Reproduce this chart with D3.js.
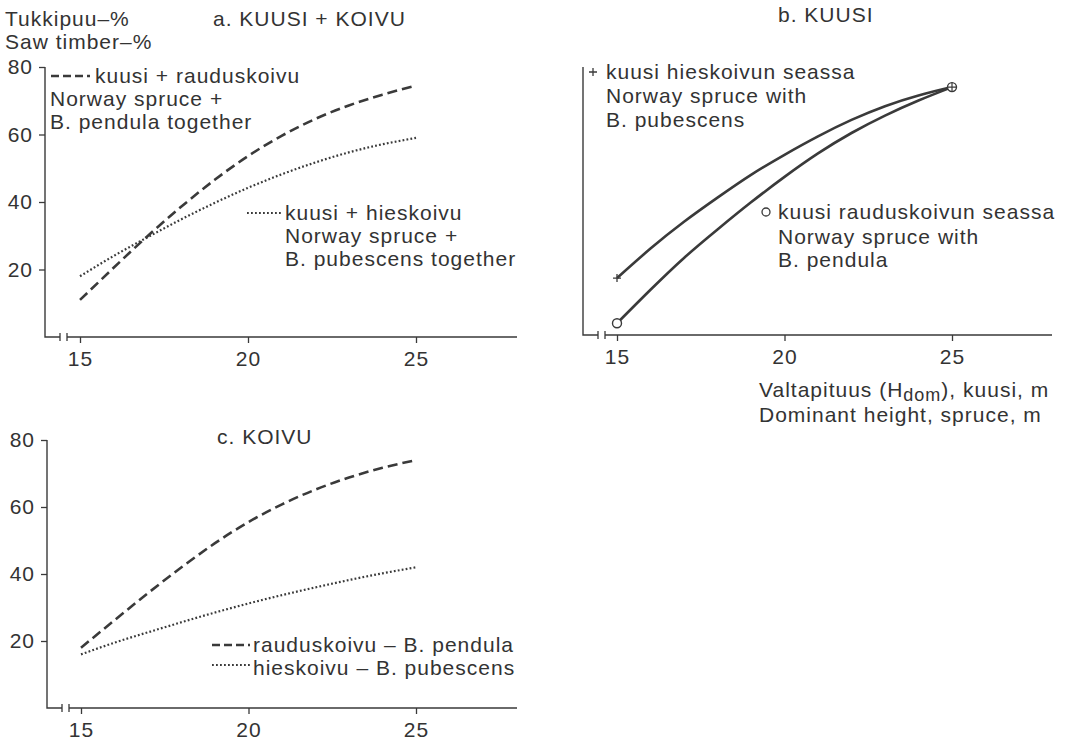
<!DOCTYPE html>
<html>
<head>
<meta charset="utf-8">
<script src="https://cdn.jsdelivr.net/npm/d3@7"></script>
<style>
  html, body { margin: 0; padding: 0; background: #fff; }
  svg text { font-family: "Liberation Sans", Arial, sans-serif; fill: #333; }
</style>
</head>
<body>
<svg id="chart" width="1066" height="744"></svg>
<script>
// Dominant height of spruce, m
const heights = [15, 16, 17, 18, 19, 20, 21, 22, 23, 24, 25];
const xTicks = [15, 20, 25];
const yTicks = [20, 40, 60, 80];

// a. spruce + birch together, saw timber %
const aSprucePendula   = [11, 20.5, 29.8, 38.5, 46.5, 53.6, 59.6, 64.6, 68.6, 71.8, 74.5];
const aSprucePubescens = [18, 24, 29.5, 34.8, 39.7, 44.2, 48.2, 51.7, 54.7, 57.1, 59];

// b. spruce only
const bSpruceWithPubescens = [17, 25.8, 33.8, 41, 47.8, 53.8, 59.3, 64.2, 68.3, 71.5, 74];
const bSpruceWithPendula   = [3.5, 13.5, 23, 31.5, 39.6, 47.2, 54.2, 60.3, 65.5, 70, 74];

// c. birch only
const cPendula   = [18, 26.2, 34.3, 42, 49.2, 55.5, 60.8, 65.2, 68.8, 71.7, 74];
const cPubescens = [16, 19.5, 22.6, 25.6, 28.5, 31.2, 33.7, 36, 38.2, 40.2, 42];

const svg = d3.select("#chart");
const INK = "#3a3a3a";
const FONT = 21;
const LS = "1px";

const DASH = "10,5";
const DOT = "1.8,2.2";

function text(g, x, y, s, anchor) {
  return g.append("text").attr("x", x).attr("y", y)
    .attr("font-size", FONT).attr("letter-spacing", LS)
    .attr("text-anchor", anchor || "start").text(s);
}

function panel(opts) {
  const g = svg.append("g");
  const x = d3.scaleLinear().domain([15, 25]).range([opts.x15, opts.x25]);
  const y = d3.scaleLinear().domain([0, 80]).range([opts.y0, opts.y80]);
  const ax = opts.axisX, base = opts.y0;

  // x axis with broken-scale marks near the origin
  const xa = g.append("g").attr("transform", `translate(0,${base})`)
    .call(d3.axisBottom(x).tickValues(xTicks).tickSize(6).tickPadding(8).tickFormat(d3.format("d")));
  xa.select(".domain").remove();
  xa.selectAll(".tick line").attr("stroke", INK).attr("stroke-width", 1.3);
  xa.selectAll(".tick text").attr("font-size", FONT).attr("letter-spacing", LS)
    .attr("font-family", "Liberation Sans, Arial, sans-serif").attr("fill", "#333");
  const b1 = ax + 15, b2 = ax + 22;
  g.append("path").attr("fill", "none").attr("stroke", INK).attr("stroke-width", 1.4)
    .attr("d", `M${ax},${y(80)}V${base}H${b1}M${b2},${base}H${opts.xEnd}`);
  g.append("path").attr("fill", "none").attr("stroke", INK).attr("stroke-width", 1.3)
    .attr("d", `M${b1},${base - 4}V${base + 4}M${b2},${base - 4}V${base + 4}`);

  if (opts.yLabels) {
    const ya = g.append("g").attr("transform", `translate(${ax},0)`)
      .call(d3.axisLeft(y).tickValues(yTicks).tickSize(6).tickPadding(6).tickFormat(d3.format("d")));
    ya.select(".domain").remove();
    ya.selectAll(".tick line").attr("stroke", INK).attr("stroke-width", 1.3);
    ya.selectAll(".tick text").attr("font-size", FONT).attr("letter-spacing", LS)
      .attr("font-family", "Liberation Sans, Arial, sans-serif").attr("fill", "#333");
  }
  return { g, x, y };
}

function curve(p, values, dash, width) {
  const line = d3.line().x((d, i) => p.x(heights[i])).y(d => p.y(d)).curve(d3.curveNatural);
  p.g.append("path").datum(values).attr("fill", "none").attr("stroke", INK)
    .attr("stroke-width", width).attr("stroke-dasharray", dash).attr("d", line);
}

function legendLine(g, x1, x2, y, dash, width) {
  g.append("line").attr("x1", x1).attr("x2", x2).attr("y1", y).attr("y2", y)
    .attr("stroke", INK).attr("stroke-width", width).attr("stroke-dasharray", dash);
}

// ---- a. KUUSI + KOIVU
const pa = panel({ x15: 80, x25: 416, y0: 337, y80: 67, axisX: 45, xEnd: 517, yLabels: true });
curve(pa, aSprucePendula, DASH, 2.6);
curve(pa, aSprucePubescens, DOT, 2.2);
text(pa.g, 5, 26, "Tukkipuu\u2013%");
text(pa.g, 5, 49, "Saw timber\u2013%");
text(pa.g, 213, 26, "a.  KUUSI + KOIVU");
legendLine(pa.g, 51, 90, 76, "8,4", 2.6);
text(pa.g, 95, 83, "kuusi + rauduskoivu");
text(pa.g, 50, 106, "Norway spruce +");
text(pa.g, 50, 129, "B. pendula together");
legendLine(pa.g, 247, 282, 213, DOT, 2.2);
text(pa.g, 285, 220, "kuusi + hieskoivu");
text(pa.g, 285, 243, "Norway spruce +");
text(pa.g, 285, 266, "B. pubescens together");

// ---- b. KUUSI
const pb = panel({ x15: 617, x25: 952, y0: 335, y80: 67, axisX: 583, xEnd: 1052, yLabels: false });
curve(pb, bSpruceWithPubescens, null, 2.6);
curve(pb, bSpruceWithPendula, null, 2.6);
text(pb.g, 778, 22, "b.  KUUSI");
// start markers
const sx = pb.x(heights[0]);
const sy1 = pb.y(bSpruceWithPubescens[0]), sy2 = pb.y(bSpruceWithPendula[0]);
pb.g.append("path").attr("stroke", INK).attr("stroke-width", 1.3)
  .attr("d", `M${sx - 4},${sy1}H${sx + 4}M${sx},${sy1 - 4}V${sy1 + 4}`);
pb.g.append("circle").attr("cx", sx).attr("cy", sy2).attr("r", 4.5)
  .attr("fill", "#fff").attr("stroke", INK).attr("stroke-width", 1.4);
// shared end marker
const ex = pb.x(heights[heights.length - 1]), ey = pb.y(bSpruceWithPendula[bSpruceWithPendula.length - 1]);
pb.g.append("circle").attr("cx", ex).attr("cy", ey).attr("r", 4.5)
  .attr("fill", "#fff").attr("stroke", INK).attr("stroke-width", 1.4);
pb.g.append("path").attr("stroke", INK).attr("stroke-width", 1.2)
  .attr("d", `M${ex - 4.5},${ey}H${ex + 4.5}M${ex},${ey - 4.5}V${ey + 4.5}`);
// legends
pb.g.append("path").attr("stroke", INK).attr("stroke-width", 1.3)
  .attr("d", "M589,72H597M593,68V76");
text(pb.g, 606, 79, "kuusi hieskoivun seassa");
text(pb.g, 606, 103, "Norway spruce with");
text(pb.g, 606, 127, "B. pubescens");
pb.g.append("circle").attr("cx", 766).attr("cy", 212).attr("r", 4)
  .attr("fill", "#fff").attr("stroke", INK).attr("stroke-width", 1.3);
text(pb.g, 778, 219, "kuusi rauduskoivun seassa");
text(pb.g, 778, 244, "Norway spruce with");
text(pb.g, 778, 267, "B. pendula");
const t1 = pb.g.append("text").attr("x", 759).attr("y", 397)
  .attr("font-size", FONT).attr("letter-spacing", LS);
t1.append("tspan").text("Valtapituus (H");
t1.append("tspan").attr("font-size", 18).attr("dy", 4).text("dom");
t1.append("tspan").attr("dy", -4).text("), kuusi, m");
text(pb.g, 759, 422, "Dominant height, spruce, m");

// ---- c. KOIVU
const pc = panel({ x15: 81, x25: 416, y0: 708, y80: 440, axisX: 47, xEnd: 517, yLabels: true });
curve(pc, cPendula, DASH, 2.6);
curve(pc, cPubescens, DOT, 2.2);
text(pc.g, 217, 444, "c.  KOIVU");
legendLine(pc.g, 212, 250, 645, "8,4", 2.6);
text(pc.g, 253, 652, "rauduskoivu  \u2013  B. pendula");
legendLine(pc.g, 212, 250, 665, DOT, 2.2);
text(pc.g, 253, 675, "hieskoivu  \u2013  B. pubescens");
</script>
</body>
</html>
